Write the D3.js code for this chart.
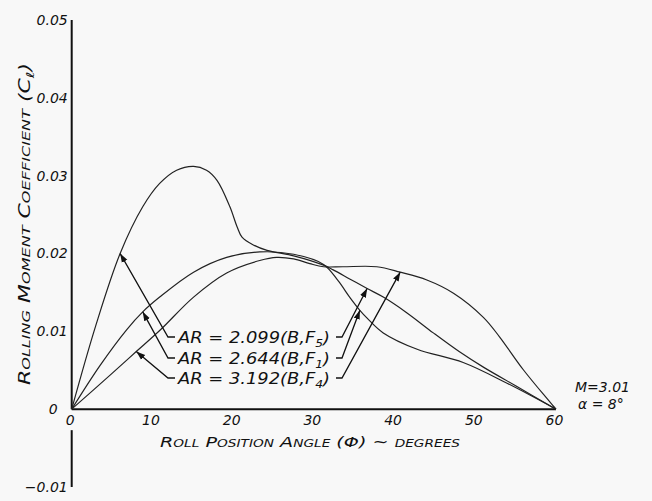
<!DOCTYPE html>
<html>
<head>
<meta charset="utf-8">
<script src="https://cdn.jsdelivr.net/npm/d3@7"></script>
<style>
  body { margin: 0; background: #f8f8f8; }
  svg { display: block; }
  text { font-family: "DejaVu Sans", sans-serif; font-style: italic; fill: #111; }
</style>
</head>
<body>
<div id="chart"></div>
<script>
// data
var yTicks = [-0.01, 0, 0.01, 0.02, 0.03, 0.04, 0.05];
var xTicks = [0, 10, 20, 30, 40, 50, 60];

// AR = 2.099 (B,F5)
var phiA = [0, 3, 6, 8.8, 10.9, 13, 15.1, 16.7, 18, 19.6, 20.5, 21.1, 22.5, 24.2, 27.5, 31.2, 32.4, 34.5, 36.6, 38.6, 41.5, 44.8, 48, 51, 55, 60];
var clA  = [0, 0.0108, 0.020, 0.026, 0.029, 0.0307, 0.0312, 0.0307, 0.0294, 0.026, 0.0234, 0.0221, 0.0211, 0.0204, 0.0197, 0.0185, 0.0179, 0.0167, 0.0155, 0.0144, 0.0124, 0.0098, 0.0074, 0.0054, 0.003, 0];
// AR = 2.644 (B,F1)
var phiB = [0, 3.5, 6.8, 8.8, 10.9, 15.1, 19.2, 23.3, 27.5, 31.2, 33, 34.5, 35.7, 36.6, 38.6, 42.8, 48.5, 54, 60];
var clB  = [0, 0.0056, 0.0102, 0.0125, 0.0144, 0.0176, 0.0195, 0.0202, 0.0199, 0.0186, 0.0165, 0.0143, 0.0127, 0.0117, 0.0098, 0.0077, 0.006, 0.0033, 0];
// AR = 3.192 (B,F4)
var phiC = [0, 5, 8, 11, 15.1, 19.2, 23.3, 25.4, 27.5, 29.5, 31.2, 33.6, 37.8, 40.7, 44, 47.3, 51, 53, 56, 60];
var clC  = [0, 0.0046, 0.0074, 0.0102, 0.0144, 0.0175, 0.0191, 0.0195, 0.0193, 0.0187, 0.0183, 0.0183, 0.0183, 0.0176, 0.0166, 0.0149, 0.0118, 0.0093, 0.005, 0];

var labels = ["2.099", "2.644", "3.192"];
var subs = ["5", "1", "4"];
// which data point each leader arrow points at (left, right)
var leftIdx = [2, 3, 2];
var rightIdx = [18, 12, 13];

var svgWidth = 652;
var svgHeight = 501;

var svg = d3.select("#chart").append("svg")
  .attr("width", svgWidth)
  .attr("height", svgHeight);

svg.append("rect").attr("width", svgWidth).attr("height", svgHeight).attr("fill", "#f8f8f8");

var x = d3.scaleLinear().domain([0, 60]).range([71.7, 556]);
var y = d3.scaleLinear().domain([-0.01, 0.05]).range([487, 20]);

// arrowhead
svg.append("defs").append("marker")
  .attr("id", "arrow")
  .attr("viewBox", "0 0 10 10")
  .attr("refX", 10).attr("refY", 5)
  .attr("markerWidth", 9).attr("markerHeight", 9)
  .attr("markerUnits", "userSpaceOnUse")
  .attr("orient", "auto")
  .append("path").attr("d", "M0,1.5 L10,5 L0,8.5 Z").attr("fill", "#111");

// axes lines
svg.append("line").attr("x1", x(0)).attr("x2", x(0)).attr("y1", y(0.05)).attr("y2", y(0))
  .attr("stroke", "#111").attr("stroke-width", 2);
svg.append("line").attr("x1", x(0)).attr("x2", x(0)).attr("y1", y(0) + 21).attr("y2", y(-0.01))
  .attr("stroke", "#111").attr("stroke-width", 2);
svg.append("line").attr("x1", x(0)).attr("x2", x(60)).attr("y1", y(0)).attr("y2", y(0))
  .attr("stroke", "#111").attr("stroke-width", 2);

// tick labels
var yAxis = d3.axisLeft(y).tickValues(yTicks).tickSize(0).tickPadding(4)
  .tickFormat(d => d === 0 ? "0" : d3.format(".2f")(d));
var gy = svg.append("g").attr("transform", `translate(${x(0)},0)`).call(yAxis);
gy.select(".domain").remove();
gy.selectAll("text").attr("font-size", 14).attr("font-family", "DejaVu Sans")
  .attr("fill", "#111")
  .attr("dx", d => d === 0 ? -10 : 0);

var xAxis = d3.axisBottom(x).tickValues(xTicks).tickSize(0).tickPadding(6);
var gx = svg.append("g").attr("transform", `translate(0,${y(0)})`).call(xAxis);
gx.select(".domain").remove();
gx.selectAll("text").attr("font-size", 14).attr("font-family", "DejaVu Sans")
  .attr("fill", "#111").attr("dx", -2);

// axis titles
var yt = svg.append("text")
  .attr("transform", `translate(30, 224) rotate(-90)`)
  .attr("text-anchor", "middle")
  .attr("font-size", 15)
  .style("font-variant", "small-caps")
  .attr("textLength", 322).attr("lengthAdjust", "spacingAndGlyphs");
yt.append("tspan").text("Rolling Moment Coefficient (C");
yt.append("tspan").attr("dy", 4).attr("font-size", 11).text("ℓ");
yt.append("tspan").attr("dy", -4).text(")");

svg.append("text")
  .attr("x", 310).attr("y", 447)
  .attr("text-anchor", "middle")
  .attr("font-size", 14)
  .style("font-variant", "small-caps")
  .attr("textLength", 300).attr("lengthAdjust", "spacingAndGlyphs")
  .text("Roll Position Angle (Φ) ~ degrees");

svg.append("text").attr("x", 575).attr("y", 392).attr("font-size", 14).text("M=3.01");
svg.append("text").attr("x", 578).attr("y", 409).attr("font-size", 14).text("α = 8°");

// curves
var series = [
  d3.zip(phiA, clA),
  d3.zip(phiB, clB),
  d3.zip(phiC, clC)
];

var line = d3.line()
  .x(d => x(d[0]))
  .y(d => y(d[1]))
  .curve(d3.curveCatmullRom.alpha(0.5));

svg.append("g").selectAll("path")
  .data(series)
  .enter()
  .append("path")
  .attr("d", line)
  .attr("fill", "none")
  .attr("stroke", "#222")
  .attr("stroke-width", 1.2);

// labels with leader lines
var labelY = [337, 358, 378];
var labelX0 = 178, labelX1 = 334;

series.forEach(function(s, i) {
  var t = svg.append("text")
    .attr("x", labelX0).attr("y", labelY[i] + 6)
    .attr("font-size", 16)
    .attr("textLength", labelX1 - labelX0 - 4).attr("lengthAdjust", "spacingAndGlyphs");
  t.append("tspan").text("AR = " + labels[i] + "(B,F");
  t.append("tspan").attr("dy", 4).attr("font-size", 11).text(subs[i]);
  t.append("tspan").attr("dy", -4).text(")");

  var pl = s[leftIdx[i]];
  var pr = s[rightIdx[i]];
  var leftPts = [[labelX0 - 3, labelY[i]], [labelX0 - 10, labelY[i]], [x(pl[0]), y(pl[1])]];
  var rightPts = [[labelX1 + 2, labelY[i]], [labelX1 + 8, labelY[i]], [x(pr[0]), y(pr[1])]];
  [leftPts, rightPts].forEach(function(pts) {
    svg.append("path")
      .attr("d", d3.line()(pts))
      .attr("fill", "none")
      .attr("stroke", "#111")
      .attr("stroke-width", 1.3)
      .attr("marker-end", "url(#arrow)");
  });
});
</script>
</body>
</html>
